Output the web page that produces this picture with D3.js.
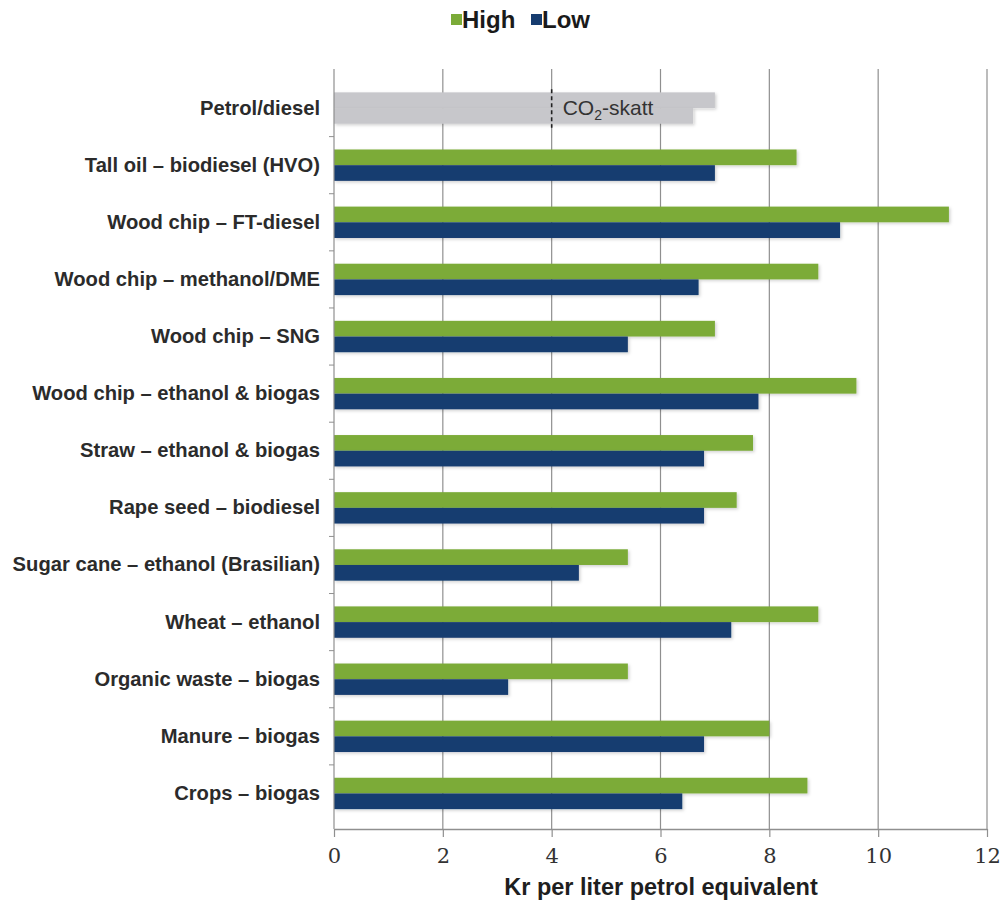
<!DOCTYPE html>
<html>
<head>
<meta charset="utf-8">
<script src="https://cdn.jsdelivr.net/npm/d3@7"></script>
<style>
  body { margin:0; background:#fff; }
  svg { display:block; }
</style>
</head>
<body>
<div id="chart"></div>
<script>
const categories = [
  "Petrol/diesel",
  "Tall oil – biodiesel (HVO)",
  "Wood chip – FT-diesel",
  "Wood chip – methanol/DME",
  "Wood chip – SNG",
  "Wood chip – ethanol & biogas",
  "Straw – ethanol & biogas",
  "Rape seed – biodiesel",
  "Sugar cane – ethanol (Brasilian)",
  "Wheat – ethanol",
  "Organic waste – biogas",
  "Manure – biogas",
  "Crops – biogas"
];
const highValues = [7.0, 8.5, 11.3, 8.9, 7.0, 9.6, 7.7, 7.4, 5.4, 8.9, 5.4, 8.0, 8.7];
const lowValues  = [6.6, 7.0, 9.3, 6.7, 5.4, 7.8, 6.8, 6.8, 4.5, 7.3, 3.2, 6.8, 6.4];
const seriesNames = ["High", "Low"];
const xTicks = [0, 2, 4, 6, 8, 10, 12];
const co2Mark = 4;

const width = 1005, height = 902;
const colors = { High: "#7bab38", Low: "#163c6f", ref: "#c7c7cb" };
const sans = "Liberation Sans, Arial, Helvetica, sans-serif";

const svg = d3.select("#chart").append("svg")
  .attr("width", width).attr("height", height);

const defs = svg.append("defs");
const f = defs.append("filter").attr("id", "shadow")
  .attr("x", "-5%").attr("y", "-30%").attr("width", "110%").attr("height", "170%");
f.append("feDropShadow").attr("dx", 1.5).attr("dy", 1.5).attr("stdDeviation", 1.5)
  .attr("flood-color", "#000").attr("flood-opacity", 0.18);

const x = d3.scaleLinear().domain([0, 12]).range([334, 987]);
const y = d3.scaleBand().domain(categories).range([79.5, 822]);
const inner = d3.scaleBand().domain(seriesNames).range([0, y.bandwidth()]).paddingOuter(0.82);

const rows = categories.map((c, i) => ({ cat: c, High: highValues[i], Low: lowValues[i] }));

// grid lines
svg.append("g").selectAll("line")
  .data(xTicks.filter(d => d > 0))
  .join("line")
  .attr("x1", d => x(d)).attr("x2", d => x(d))
  .attr("y1", 69).attr("y2", 829)
  .attr("stroke", "#8f8f8f").attr("stroke-width", 1.2);

// bars
const groups = svg.append("g").selectAll("g")
  .data(rows)
  .join("g")
  .attr("transform", d => `translate(0,${y(d.cat)})`);

groups.selectAll("rect")
  .data((d, i) => seriesNames.map(s => ({ key: s, value: d[s], ref: i === 0 })))
  .join("rect")
  .attr("x", x(0))
  .attr("y", d => inner(d.key))
  .attr("width", d => x(d.value) - x(0))
  .attr("height", inner.bandwidth())
  .attr("fill", d => d.ref ? colors.ref : colors[d.key])
  .attr("filter", "url(#shadow)");

// CO2 marker on the reference bar
const refY = y(categories[0]);
svg.append("line")
  .attr("x1", x(co2Mark)).attr("x2", x(co2Mark))
  .attr("y1", refY + inner("High") - 3).attr("y2", refY + inner("Low") + inner.bandwidth() + 4)
  .attr("stroke", "#222").attr("stroke-width", 1.6).attr("stroke-dasharray", "4,3");

const co2 = svg.append("text")
  .attr("x", x(co2Mark) + 11).attr("y", refY + y.bandwidth() / 2 + 7)
  .attr("font-family", sans)
  .attr("font-size", 21).attr("fill", "#333");
co2.append("tspan").text("CO");
co2.append("tspan").attr("font-size", 14).attr("dy", 5).text("2");
co2.append("tspan").attr("dy", -5).text("-skatt");

// y axis
const yAxis = svg.append("g")
  .attr("transform", `translate(${x(0)},0)`)
  .call(d3.axisLeft(y).tickSize(0).tickPadding(14));
yAxis.select(".domain").attr("stroke", "#8f8f8f").attr("stroke-width", 1.2)
  .attr("d", "M0,69V829");
yAxis.selectAll("text")
  .attr("font-family", sans)
  .attr("font-size", 20.2).attr("font-weight", "bold").attr("fill", "#2b2b2b");
// small separator ticks between categories
svg.append("g").selectAll("line")
  .data(categories.slice(1))
  .join("line")
  .attr("x1", x(0) - 5).attr("x2", x(0))
  .attr("y1", d => y(d)).attr("y2", d => y(d))
  .attr("stroke", "#8f8f8f");

// x axis
const xAxis = svg.append("g")
  .attr("transform", "translate(0,829)")
  .call(d3.axisBottom(x).tickValues(xTicks).tickSize(8).tickSizeOuter(0).tickPadding(11));
xAxis.select(".domain").attr("stroke", "#8f8f8f").attr("stroke-width", 1.5);
xAxis.selectAll(".tick line").attr("stroke", "#8f8f8f").attr("stroke-width", 1.2);
xAxis.selectAll("text")
  .attr("font-family", "DejaVu Serif, Liberation Serif, serif")
  .attr("font-size", 21).attr("fill", "#333");

svg.append("text")
  .attr("x", 661).attr("y", 895)
  .attr("text-anchor", "middle")
  .attr("font-family", sans)
  .attr("font-size", 23.5).attr("font-weight", "bold").attr("fill", "#1e1e1e")
  .text("Kr per liter petrol equivalent");

// legend
const legendItems = [{ name: "High", x: 451 }, { name: "Low", x: 531 }];
const lg = svg.append("g").selectAll("g")
  .data(legendItems)
  .join("g")
  .attr("transform", d => `translate(${d.x},12)`);
lg.append("rect").attr("width", 11).attr("height", 11).attr("y", 2)
  .attr("fill", d => colors[d.name]);
lg.append("text").attr("x", 11).attr("y", 16)
  .attr("font-family", sans)
  .attr("font-size", 24).attr("font-weight", "bold").attr("fill", "#1a1a1a")
  .text(d => d.name);
</script>
</body>
</html>
